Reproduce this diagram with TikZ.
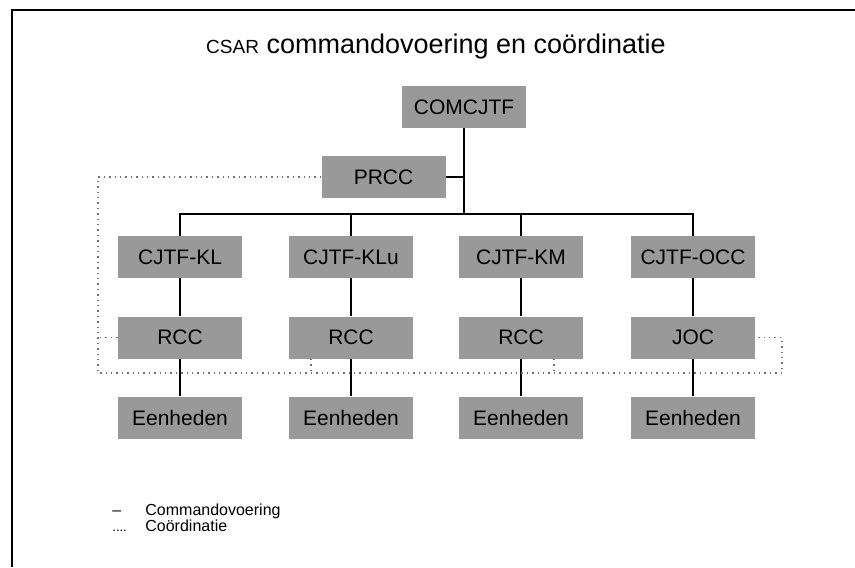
\documentclass[tikz,border=0pt]{standalone}
\usepackage{fontspec}
\setmainfont{Liberation Sans}
\usepackage{tikz}
\definecolor{blokgrijs}{gray}{0.6}
\tikzstyle{blok} = [rectangle, fill=blokgrijs, minimum width=62pt,
    minimum height=21pt, inner sep=0pt, font=\fontsize{10.5pt}{12pt}\selectfont]
\tikzstyle{lijn} = [line width=1pt]
\tikzstyle{stippel} = [dotted, line width=0.7pt, black!55]
\tikzstyle{legenda} = [anchor=base west, inner sep=0pt,
    font=\fontsize{8pt}{9pt}\selectfont]

\begin{document}
\begin{tikzpicture}[x=0.5pt,y=-0.5pt]
  \useasboundingbox (0,0) rectangle (855,567);
  % kader
  \draw[line width=1.2pt] (12,567) -- (12,10) -- (855,10);

  \node (titel) at (436,47) {\fontsize{13.5pt}{16pt}\selectfont
    {\fontsize{9.5pt}{12pt}\selectfont CSAR} commandovoering en coördinatie};

  \node [blok] (comcjtf) at (464,107) {COMCJTF};
  \node [blok] (prcc) at (383.5,177) {PRCC};

  \node [blok] (kl)  at (180,257) {CJTF-KL};
  \node [blok] (klu) at (351,257) {CJTF-KLu};
  \node [blok] (km)  at (521,257) {CJTF-KM};
  \node [blok] (occ) at (693,257) {CJTF-OCC};

  \node [blok] (rcca) at (180,337.5) {RCC};
  \node [blok] (rccb) at (351,337.5) {RCC};
  \node [blok] (rccc) at (521,337.5) {RCC};
  \node [blok] (joc)  at (693,337.5) {JOC};

  \node [blok] (eena) at (180,417.5) {Eenheden};
  \node [blok] (eenb) at (351,417.5) {Eenheden};
  \node [blok] (eenc) at (521,417.5) {Eenheden};
  \node [blok] (eend) at (693,417.5) {Eenheden};

  % commandovoering
  \coordinate (knoop) at (464,214);
  \draw[lijn] (comcjtf.south) -- (knoop);
  \draw[lijn] (prcc.east) -- (prcc.east -| knoop);
  \draw[lijn] (kl.north) |- (knoop) -| (occ.north);
  \draw[lijn] (klu.north) -- (klu.north |- knoop);
  \draw[lijn] (km.north) -- (km.north |- knoop);
  \draw[lijn] (kl) -- (rcca) -- (eena);
  \draw[lijn] (klu) -- (rccb) -- (eenb);
  \draw[lijn] (km) -- (rccc) -- (eenc);
  \draw[lijn] (occ) -- (joc) -- (eend);

  % coordinatie
  \coordinate (linksonder) at (98,373);
  \coordinate (rechtsonder) at (782,373);
  \draw[stippel] (prcc.west) -| (linksonder) -- (rechtsonder) |- (joc.east);
  \draw[stippel] (rcca.west) -- (rcca.west -| linksonder);
  \draw[stippel] ([xshift=-20pt]rccb.south) -- ([xshift=-20pt]rccb.south |- linksonder);
  \draw[stippel] ([xshift=16.5pt]rccc.south) -- ([xshift=16.5pt]rccc.south |- linksonder);

  % legenda
  \node [legenda] (strepa) at (112,515) {–};
  \node [legenda] (tekst1) at (145,515) {Commandovoering};
  \node [legenda] (strepb) at (112,531) {{\fontsize{6.5pt}{7pt}\selectfont ....}};
  \node [legenda] (tekst2) at (145,531) {Coördinatie};
\end{tikzpicture}
\end{document}
